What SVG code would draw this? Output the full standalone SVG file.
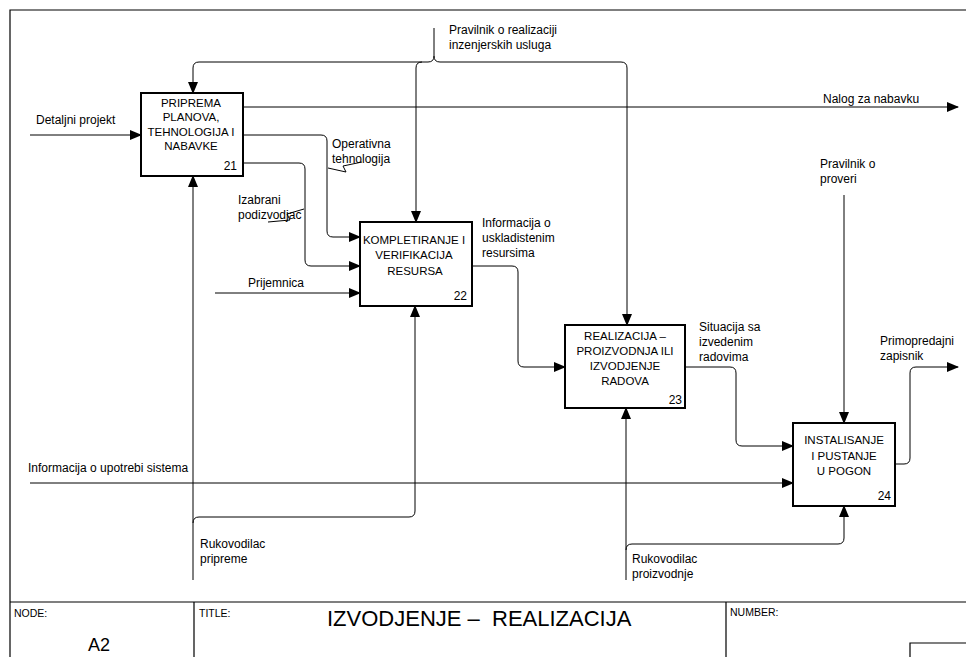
<svg xmlns="http://www.w3.org/2000/svg" width="966" height="657" viewBox="0 0 966 657">
  <defs>
    <marker id="arr" markerWidth="12" markerHeight="10" refX="11" refY="5" orient="auto" markerUnits="userSpaceOnUse">
      <path d="M0,0 L12,5 L0,10 Z" fill="#000"/>
    </marker>
    <style>
      text { font-family: "Liberation Sans", Arial, sans-serif; fill: #000; }
      .lbl { font-size: 12px; }
      .box { fill: #fff; stroke: #000; stroke-width: 2; }
      .num { font-size: 12px; text-anchor: end; }
      .ctr { font-size: 11.5px; text-anchor: middle; }
      .arc { fill: none; stroke: #000; stroke-width: 1; }
      .frame { fill: none; stroke: #000; stroke-width: 1.2; }
      .small { font-size: 10.5px; }
    </style>
  </defs>
  <rect width="966" height="657" fill="#fff"/>

  <!-- page frame and title block -->
  <g id="frame">
    <path class="frame" d="M966,10 H10 V657"/>
    <path class="frame" d="M10,602 H966"/>
    <path class="frame" d="M194,602 V657 M726,602 V657"/>
    <path class="frame" d="M910,657 V643 H966"/>
    <text class="small" x="14" y="617">NODE:</text>
    <text x="88" y="651" font-size="18">A2</text>
    <text class="small" x="199" y="617">TITLE:</text>
    <text x="327" y="626" font-size="22" xml:space="preserve">IZVODJENJE –  REALIZACIJA</text>
    <text class="small" x="730" y="616">NUMBER:</text>
  </g>

  <!-- connectors -->
  <g id="connectors">
    <!-- Pravilnik o realizaciji inzenjerskih usluga -->
    <path class="arc" d="M434,28 V56 Q434,62 428,62 H199 Q193,62 193,68 V93" marker-end="url(#arr)"/>
    <path class="arc" d="M434,56 Q434,62 440,62 H621 Q627,62 627,68 V325" marker-end="url(#arr)"/>
    <path class="arc" d="M422,62 Q416,62 416,68 V222" marker-end="url(#arr)"/>
    <text class="lbl" x="449" y="34">Pravilnik o realizaciji</text>
    <text class="lbl" x="449" y="49">inzenjerskih usluga</text>

    <!-- Detaljni projekt -->
    <path class="arc" d="M30,135 H141" marker-end="url(#arr)"/>
    <text class="lbl" x="36" y="124">Detaljni projekt</text>

    <!-- Nalog za nabavku -->
    <path class="arc" d="M243,107 H958" marker-end="url(#arr)"/>
    <text class="lbl" x="823" y="103">Nalog za nabavku</text>

    <!-- Operativna tehnologija -->
    <path class="arc" d="M243,135 H321 Q327,135 327,141 V231 Q327,237 333,237 H360" marker-end="url(#arr)"/>
    <path class="arc" d="M328,168 L346,172 L343,166 L362,162"/>
    <text class="lbl" x="332" y="148">Operativna</text>
    <text class="lbl" x="332" y="163">tehnologija</text>

    <!-- Izabrani podizvodjac -->
    <path class="arc" d="M243,163 H299 Q305,163 305,169 V260 Q305,266 311,266 H360" marker-end="url(#arr)"/>
    <path class="arc" d="M268,222 L290,220 L287,214 L304,209"/>
    <text class="lbl" x="238" y="204">Izabrani</text>
    <text class="lbl" x="238" y="219">podizvodjac</text>

    <!-- Prijemnica -->
    <path class="arc" d="M215,293 H360" marker-end="url(#arr)"/>
    <text class="lbl" x="248" y="287">Prijemnica</text>

    <!-- Rukovodilac pripreme -->
    <path class="arc" d="M193,580 V176" marker-end="url(#arr)"/>
    <path class="arc" d="M193,523 Q193,517 199,517 H409 Q415,517 415,511 V306" marker-end="url(#arr)"/>
    <text class="lbl" x="200" y="548">Rukovodilac</text>
    <text class="lbl" x="200" y="563">pripreme</text>

    <!-- Informacija o uskladistenim resursima -->
    <path class="arc" d="M472,266 H512 Q518,266 518,272 V361 Q518,367 524,367 H565" marker-end="url(#arr)"/>
    <text class="lbl" x="482" y="227">Informacija o</text>
    <text class="lbl" x="482" y="242">uskladistenim</text>
    <text class="lbl" x="482" y="257">resursima</text>

    <!-- Informacija o upotrebi sistema -->
    <path class="arc" d="M30,483 H793" marker-end="url(#arr)"/>
    <text class="lbl" x="28" y="472">Informacija o upotrebi sistema</text>

    <!-- Situacija sa izvedenim radovima -->
    <path class="arc" d="M685,367 H730 Q736,367 736,373 V440 Q736,446 742,446 H793" marker-end="url(#arr)"/>
    <text class="lbl" x="699" y="331">Situacija sa</text>
    <text class="lbl" x="699" y="346">izvedenim</text>
    <text class="lbl" x="699" y="361">radovima</text>

    <!-- Pravilnik o proveri -->
    <path class="arc" d="M844,195 V423" marker-end="url(#arr)"/>
    <text class="lbl" x="820" y="168">Pravilnik o</text>
    <text class="lbl" x="820" y="183">proveri</text>

    <!-- Primopredajni zapisnik -->
    <path class="arc" d="M895,464 H904 Q910,464 910,458 V373 Q910,367 916,367 H958" marker-end="url(#arr)"/>
    <text class="lbl" x="880" y="345">Primopredajni</text>
    <text class="lbl" x="880" y="360">zapisnik</text>

    <!-- Rukovodilac proizvodnje -->
    <path class="arc" d="M626,580 V408" marker-end="url(#arr)"/>
    <path class="arc" d="M626,550 Q626,544 632,544 H838 Q844,544 844,538 V506" marker-end="url(#arr)"/>
    <text class="lbl" x="632" y="563">Rukovodilac</text>
    <text class="lbl" x="632" y="578">proizvodnje</text>
  </g>

  <!-- activity 21 -->
  <g id="node21">
    <rect class="box" x="141" y="93" width="102" height="83"/>
    <text class="ctr" x="191" y="107">PRIPREMA</text>
    <text class="ctr" x="191" y="121">PLANOVA,</text>
    <text class="ctr" x="191" y="136">TEHNOLOGIJA I</text>
    <text class="ctr" x="191" y="150">NABAVKE</text>
    <text class="num" x="237" y="170">21</text>
  </g>

  <!-- activity 22 -->
  <g id="node22">
    <rect class="box" x="360" y="222" width="112" height="84"/>
    <text class="ctr" x="414" y="244">KOMPLETIRANJE I</text>
    <text class="ctr" x="414" y="259">VERIFIKACIJA</text>
    <text class="ctr" x="415" y="275">RESURSA</text>
    <text class="num" x="467" y="300">22</text>
  </g>

  <!-- activity 23 -->
  <g id="node23">
    <rect class="box" x="565" y="325" width="120" height="83"/>
    <text class="ctr" x="625" y="340">REALIZACIJA –</text>
    <text class="ctr" x="625" y="355">PROIZVODNJA ILI</text>
    <text class="ctr" x="625" y="370">IZVODJENJE</text>
    <text class="ctr" x="625" y="385">RADOVA</text>
    <text class="num" x="682" y="404">23</text>
  </g>

  <!-- activity 24 -->
  <g id="node24">
    <rect class="box" x="793" y="423" width="102" height="83"/>
    <text class="ctr" x="844" y="444">INSTALISANJE</text>
    <text class="ctr" x="844" y="460">I PUSTANJE</text>
    <text class="ctr" x="844" y="475">U POGON</text>
    <text class="num" x="891" y="500">24</text>
  </g>
</svg>
